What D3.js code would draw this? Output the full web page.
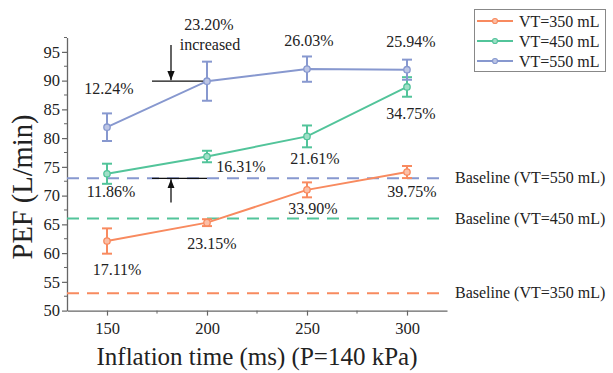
<!DOCTYPE html>
<html>
<head>
<meta charset="utf-8">
<script src="https://cdn.jsdelivr.net/npm/d3@7"></script>
<style>
	body { margin: 0; background: #fff; }
</style>
</head>
<body>
<div id="chart"></div>
<script>
// values
var times = [150, 200, 250, 300];
var pef350 = [62.1, 65.3, 71.0, 74.1];
var pef450 = [73.8, 76.8, 80.3, 88.9];
var pef550 = [81.9, 89.9, 92.0, 91.9];
var sd350 = [2.2, 0.6, 1.3, 1.05];
var sd450 = [1.75, 1.0, 1.9, 1.7];
var sd550 = [2.4, 3.4, 2.2, 1.75];
var pct350 = ['17.11%', '23.15%', '33.90%', '39.75%'];
var pct450 = ['11.86%', '16.31%', '21.61%', '34.75%'];
var pct550 = ['12.24%', '23.20%', '26.03%', '25.94%'];
var baselines = [53, 66, 73];
var seriesNames = ['VT=350 mL', 'VT=450 mL', 'VT=550 mL'];
var baselineNames = ['Baseline (VT=350 mL)', 'Baseline (VT=450 mL)', 'Baseline (VT=550 mL)'];
var xTicks = [150, 200, 250, 300];
var yTicks = [50, 55, 60, 65, 70, 75, 80, 85, 90, 95];

var colors = ['#f88a5f', '#52c49a', '#8798cf'];
var FONT = '"Liberation Serif", "Times New Roman", Times, serif';
// label offsets in px relative to each point (dx, dy of baseline)
var labelOff = [
	[[10, 34], [5, 26], [6, 24], [5, 25]],
	[[4, 23], [34, 15], [8, 28], [4, 32]],
	[[2, -33], [2, -51], [2, -23], [4, -23]]
];

var width = 613, height = 373;
var svg = d3.select('#chart').append('svg')
	.attr('width', width)
	.attr('height', height)
	.style('font-family', FONT);

var x = d3.scaleLinear().domain([130, 320]).range([67, 447]);
var y = d3.scaleLinear().domain([50, 97.5]).range([310.6, 37.5]);

var series = [
	{ vals: pef350, sd: sd350, pct: pct350 },
	{ vals: pef450, sd: sd450, pct: pct450 },
	{ vals: pef550, sd: sd550, pct: pct550 }
];

function txt(sel, size) {
	return sel.style('font-family', FONT).attr('font-size', size).attr('fill', '#222');
}

// axes
var axisColor = '#666';
var xAxis = svg.append('g').attr('transform', 'translate(0,' + y(50) + ')')
	.call(d3.axisBottom(x).tickValues(xTicks).tickSize(5).tickSizeOuter(0).tickPadding(7));
xAxis.append('g').selectAll('line').data([175, 225, 275]).enter().append('line')
	.attr('x1', function(d) { return x(d); }).attr('x2', function(d) { return x(d); })
	.attr('y1', 0).attr('y2', 3).attr('stroke', axisColor);

var yAxis = svg.append('g').attr('transform', 'translate(' + x(130) + ',0)')
	.call(d3.axisLeft(y).tickValues(yTicks).tickSize(5).tickSizeOuter(0).tickPadding(2));
yAxis.append('g').selectAll('line').data(d3.range(52.5, 98, 5)).enter().append('line')
	.attr('y1', function(d) { return y(d); }).attr('y2', function(d) { return y(d); })
	.attr('x1', 0).attr('x2', -3).attr('stroke', axisColor);

[xAxis, yAxis].forEach(function(a) {
	a.attr('font-family', null);
	a.select('.domain').attr('stroke', axisColor).attr('stroke-width', 1.3);
	a.selectAll('.tick line').attr('stroke', axisColor).attr('stroke-width', 1.2);
	txt(a.selectAll('.tick text'), 16.5);
});

txt(svg.append('text'), 25)
	.attr('x', (x(130) + x(320)) / 2).attr('y', 365)
	.attr('text-anchor', 'middle')
	.text('Inflation time (ms) (P=140 kPa)');

txt(svg.append('text'), 28.5)
	.attr('transform', 'translate(32,' + 187 + ') rotate(-90)')
	.attr('text-anchor', 'middle')
	.text('PEF (L/min)');

// baselines
baselines.forEach(function(b, i) {
	svg.append('line')
		.attr('x1', x(130)).attr('x2', x(320))
		.attr('y1', y(b)).attr('y2', y(b))
		.attr('stroke', colors[i]).attr('stroke-width', 2)
		.attr('stroke-dasharray', '12,8');
	txt(svg.append('text'), 16)
		.attr('x', 455).attr('y', y(b) + 5)
		.text(baselineNames[i]);
});

// increase annotation at 200 ms
var defs = svg.append('defs');
defs.append('marker').attr('id', 'arrow')
	.attr('viewBox', '0 0 10 10').attr('refX', 10).attr('refY', 5)
	.attr('markerWidth', 7).attr('markerHeight', 7).attr('orient', 'auto')
	.append('path').attr('d', 'M0,1 L10,5 L0,9 Z').attr('fill', '#111');

var hiVal = pef550[1], loVal = baselines[2];
[hiVal, loVal].forEach(function(v) {
	svg.append('line')
		.attr('x1', x(172.5)).attr('x2', x(200))
		.attr('y1', y(v)).attr('y2', y(v))
		.attr('stroke', '#111').attr('stroke-width', 1.3);
});
svg.append('line')
	.attr('x1', x(182)).attr('x2', x(182))
	.attr('y1', y(96.2)).attr('y2', y(hiVal) - 1)
	.attr('stroke', '#111').attr('stroke-width', 1.3).attr('marker-end', 'url(#arrow)');
svg.append('line')
	.attr('x1', x(182)).attr('x2', x(182))
	.attr('y1', y(68.8)).attr('y2', y(loVal) + 1)
	.attr('stroke', '#111').attr('stroke-width', 1.3).attr('marker-end', 'url(#arrow)');

// series
var line = d3.line()
	.x(function(d) { return x(d.t); })
	.y(function(d) { return y(d.v); });

series.forEach(function(s, i) {
	var pts = times.map(function(t, j) { return { t: t, v: s.vals[j], sd: s.sd[j], pct: s.pct[j], j: j }; });
	var g = svg.append('g');

	g.append('path').datum(pts)
		.attr('d', line).attr('fill', 'none')
		.attr('stroke', colors[i]).attr('stroke-width', 2);

	var eb = g.selectAll('.eb').data(pts).enter().append('g');
	eb.append('line')
		.attr('x1', function(d) { return x(d.t); }).attr('x2', function(d) { return x(d.t); })
		.attr('y1', function(d) { return y(d.v - d.sd); }).attr('y2', function(d) { return y(d.v + d.sd); })
		.attr('stroke', colors[i]).attr('stroke-width', 2);
	[-1, 1].forEach(function(k) {
		eb.append('line')
			.attr('x1', function(d) { return x(d.t) - 5; }).attr('x2', function(d) { return x(d.t) + 5; })
			.attr('y1', function(d) { return y(d.v + k * d.sd); }).attr('y2', function(d) { return y(d.v + k * d.sd); })
			.attr('stroke', colors[i]).attr('stroke-width', 2);
	});

	g.selectAll('.pt').data(pts).enter().append('circle')
		.attr('cx', function(d) { return x(d.t); })
		.attr('cy', function(d) { return y(d.v); })
		.attr('r', 3.2)
		.attr('fill', d3.interpolateRgb(colors[i], '#fff')(0.45))
		.attr('stroke', colors[i]).attr('stroke-width', 1.3);

	txt(g.selectAll('.lbl').data(pts).enter().append('text'), 16)
		.attr('x', function(d) { return x(d.t) + labelOff[i][d.j][0]; })
		.attr('y', function(d) { return y(d.v) + labelOff[i][d.j][1]; })
		.attr('text-anchor', 'middle')
		.text(function(d) { return d.pct; });
});

// "increased" under 23.20%
txt(svg.append('text'), 16)
	.attr('x', x(200) + 3).attr('y', y(pef550[1]) - 31)
	.attr('text-anchor', 'middle')
	.text('increased');

// legend
var legend = svg.append('g');
legend.append('rect')
	.attr('x', 474.5).attr('y', 9.5).attr('width', 131).attr('height', 62)
	.attr('fill', '#fff').attr('stroke', '#888').attr('stroke-width', 1);
seriesNames.forEach(function(n, i) {
	var ly = 21 + i * 20;
	legend.append('line')
		.attr('x1', 477).attr('x2', 513).attr('y1', ly).attr('y2', ly)
		.attr('stroke', colors[i]).attr('stroke-width', 2);
	legend.append('circle')
		.attr('cx', 495).attr('cy', ly).attr('r', 2.5)
		.attr('fill', d3.interpolateRgb(colors[i], '#fff')(0.45))
		.attr('stroke', colors[i]).attr('stroke-width', 1.2);
	txt(legend.append('text'), 16)
		.attr('x', 519).attr('y', ly + 5.5)
		.text(n);
});
</script>
</body>
</html>
